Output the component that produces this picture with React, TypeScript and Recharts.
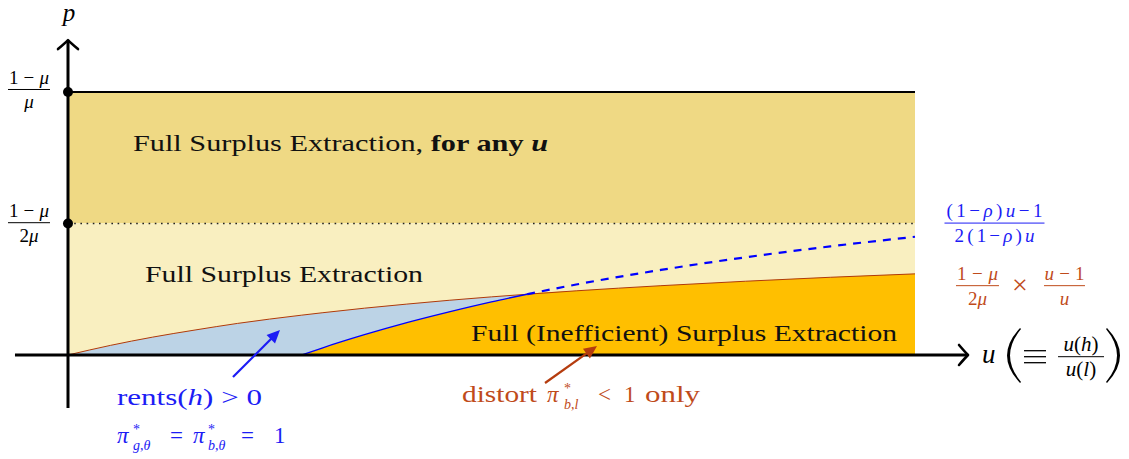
import React from 'react';
import { ComposedChart, Area, Line, XAxis, YAxis, ReferenceLine, ReferenceDot } from 'recharts';

// ---------- data ----------
// horizontal: u, 0 = origin, 10 = right edge of the shaded region
// vertical: p, 1 = (1-mu)/(2mu), 2 = (1-mu)/mu
const uValues = [0, 0.5, 1, 1.5, 2, 2.76, 3, 3.5, 4, 4.5, 5, 5.42, 6, 7, 8, 9, 10];
const surplusBoundary = [0, 0.073, 0.136, 0.19, 0.24, 0.303, 0.321, 0.356, 0.387, 0.416, 0.442, 0.462, 0.488, 0.527, 0.561, 0.591, 0.617];
const rentsBoundary: (number | null)[] = [null, null, null, null, null, 0, 0.053, 0.154, 0.246, 0.328, 0.404, 0.462, 0.536, 0.647, 0.743, 0.826, 0.899];
const crossingU = 5.42;
const pHalf = 1;
const pFull = 2;
const uEnd = 10;

// ---------- layout ----------
const W = 1129;
const H = 459;
const X_DOMAIN: [number, number] = [-0.8028, 12.5266];
const Y_DOMAIN: [number, number] = [-0.7909, 2.6996];
const X_AXIS_FROM = -0.626;
const X_AXIS_TIP = 10.626;
const Y_AXIS_FROM = -0.403;
const Y_AXIS_TIP = 2.395;

const FONT = "'Liberation Serif', 'Times New Roman', serif";
const BLUE = '#1c1cf5';
const RED = '#bf4b1b';

const rows = uValues.map((u, i) => {
  const r = surplusBoundary[i];
  const b = rentsBoundary[i];
  return {
    u,
    upper: [pHalf, pFull],
    lower: [0, pHalf],
    rents: u <= crossingU ? [0, r] : null,
    ineff: b === null ? null : [0, Math.min(r, b)],
    red: r,
    blueSolid: b !== null && u <= crossingU ? b : null,
    blueDash: b !== null && u >= crossingU ? b : null,
    top: pFull,
    half: pHalf,
  };
});

type Span = { t: string; i?: boolean; b?: boolean; x?: number; y?: number; s?: number };
type Piece = {
  x: number;
  y: number;
  size: number;
  spans: Span[];
  anchor?: 'start' | 'middle' | 'end';
  width?: number;
  adjust?: 'spacing' | 'spacingAndGlyphs';
};

const renderPieces = (cx: number, cy: number, pieces: Piece[], fill: string) =>
  pieces.map((p, k) => (
    <text
      key={k}
      x={cx + p.x}
      y={cy + p.y}
      fontSize={p.size}
      fontFamily={FONT}
      fill={fill}
      textAnchor={p.anchor || 'start'}
      {...(p.width ? { textLength: p.width, lengthAdjust: p.adjust || 'spacingAndGlyphs' } : {})}
    >
      {p.spans.map((s, j) => (
        <tspan
          key={j}
          fontStyle={s.i ? 'italic' : 'normal'}
          fontWeight={s.b ? 'bold' : 'normal'}
          {...(s.x !== undefined ? { x: cx + s.x } : {})}
          {...(s.y !== undefined ? { y: cy + s.y } : {})}
          {...(s.s !== undefined ? { fontSize: s.s } : {})}
        >
          {s.t}
        </tspan>
      ))}
    </text>
  ));

const axisArrow = (props: any) => {
  const { x1, y1, x2, y2 } = props;
  const len = Math.hypot(x2 - x1, y2 - y1) || 1;
  const dx = (x2 - x1) / len;
  const dy = (y2 - y1) / len;
  const nx = -dy;
  const ny = dx;
  const p = (a: number, b: number) => `${x2 + dx * a + nx * b},${y2 + dy * a + ny * b}`;
  return (
    <g>
      <line x1={x1} y1={y1} x2={x2 - dx * 1.2} y2={y2 - dy * 1.2} stroke="#000" strokeWidth={3} />
      <path
        d={`M${p(-9, 10)} Q${p(-3, 3)} ${p(0, 0)} Q${p(-3, -3)} ${p(-9, -10)}`}
        fill="none"
        stroke="#000"
        strokeWidth={2.6}
        strokeLinecap="round"
        strokeLinejoin="round"
      />
    </g>
  );
};

const pointer = (color: string) => (props: any) => {
  const { x1, y1, x2, y2 } = props;
  const len = Math.hypot(x2 - x1, y2 - y1) || 1;
  const dx = (x2 - x1) / len;
  const dy = (y2 - y1) / len;
  const nx = -dy;
  const ny = dx;
  const hl = 13;
  const hw = 6;
  const bx = x2 - dx * hl;
  const by = y2 - dy * hl;
  return (
    <g>
      <line x1={x1} y1={y1} x2={bx + dx * 2} y2={by + dy * 2} stroke={color} strokeWidth={2.2} />
      <path d={`M${x2},${y2} L${bx + nx * hw},${by + ny * hw} L${bx - nx * hw},${by - ny * hw} Z`} fill={color} />
    </g>
  );
};

const note = (key: string, u: number, p: number, render: (cx: number, cy: number) => React.ReactNode) => (
  <ReferenceDot
    key={key}
    x={u}
    y={p}
    r={0}
    ifOverflow="visible"
    isFront
    shape={(d: any) => <g>{render(d.cx, d.cy)}</g>}
  />
);

const mathFrac = (
  cx: number,
  cy: number,
  center: number,
  bar: number,
  barHalf: number,
  num: Span[],
  den: Span[],
  size: number,
  fill: string,
  numW?: number,
  denW?: number
) => (
  <g>
    <line x1={cx + center - barHalf} x2={cx + center + barHalf} y1={cy + bar} y2={cy + bar} stroke={fill} strokeWidth={1} />
    {renderPieces(cx, cy, [
      { x: center, y: bar - 5.7, size, spans: num, anchor: 'middle', width: numW, adjust: 'spacing' },
      { x: center, y: bar + 19, size, spans: den, anchor: 'middle', width: denW, adjust: 'spacing' },
    ], fill)}
  </g>
);

export default function App() {
  return (
    <div style={{ position: 'absolute', left: 0, top: 0, width: W, height: H, background: '#fff' }}>
      <ComposedChart width={W} height={H} data={rows} margin={{ top: 0, right: 0, bottom: 0, left: 0 }}>
        <XAxis dataKey="u" type="number" domain={X_DOMAIN} hide allowDataOverflow />
        <YAxis type="number" domain={Y_DOMAIN} hide allowDataOverflow />

        <Area dataKey="upper" type="linear" stroke="none" fill="#efd984" fillOpacity={1} dot={false} activeDot={false} isAnimationActive={false} />
        <Area dataKey="lower" type="linear" stroke="none" fill="#f9efc0" fillOpacity={1} dot={false} activeDot={false} isAnimationActive={false} />
        <Area dataKey="rents" type="monotone" stroke="none" fill="#bcd3e6" fillOpacity={1} dot={false} activeDot={false} isAnimationActive={false} />
        <Area dataKey="ineff" type="monotone" stroke="none" fill="#ffbf00" fillOpacity={1} dot={false} activeDot={false} isAnimationActive={false} />

        <Line dataKey="half" type="linear" stroke="#222" strokeWidth={1.6} strokeDasharray="1.6 4.6" dot={false} activeDot={false} isAnimationActive={false} />
        <Line dataKey="top" type="linear" stroke="#000" strokeWidth={2.2} dot={false} activeDot={false} isAnimationActive={false} />
        <Line dataKey="red" type="monotone" stroke="#b03a0a" strokeWidth={1} dot={false} activeDot={false} isAnimationActive={false} />
        <Line dataKey="blueSolid" type="monotone" stroke="#0000ff" strokeWidth={1.3} dot={false} activeDot={false} isAnimationActive={false} />
        <Line dataKey="blueDash" type="monotone" stroke="#0000ff" strokeWidth={2.2} strokeDasharray="8 7" dot={false} activeDot={false} isAnimationActive={false} />

        <ReferenceLine segment={[{ x: X_AXIS_FROM, y: 0 }, { x: X_AXIS_TIP, y: 0 }]} ifOverflow="visible" shape={axisArrow} />
        <ReferenceLine segment={[{ x: 0, y: Y_AXIS_FROM }, { x: 0, y: Y_AXIS_TIP }]} ifOverflow="visible" shape={axisArrow} />

        <ReferenceLine segment={[{ x: 1.948, y: -0.167 }, { x: 2.503, y: 0.19 }]} ifOverflow="visible" shape={pointer(BLUE)} />
        <ReferenceLine segment={[{ x: 5.632, y: -0.213 }, { x: 6.246, y: 0.068 }]} ifOverflow="visible" shape={pointer('#b53c0e')} />

        {note('dotTop', 0, pFull, (cx, cy) => <circle cx={cx} cy={cy} r={5} fill="#000" />)}
        {note('dotHalf', 0, pHalf, (cx, cy) => <circle cx={cx} cy={cy} r={5} fill="#000" />)}

        {note('p', 0, Y_AXIS_TIP, (cx, cy) =>
          renderPieces(cx, cy, [{ x: 1, y: -19, size: 25, spans: [{ t: 'p', i: true }], anchor: 'middle' }], '#000')
        )}

        {note('fracTop', 0, pFull, (cx, cy) =>
          mathFrac(cx, cy, -39, -2.5, 21, [{ t: '1−' }, { t: 'μ', i: true }], [{ t: 'μ', i: true }], 19, '#000', 40)
        )}
        {note('fracHalf', 0, pHalf, (cx, cy) =>
          mathFrac(cx, cy, -39, -0.8, 21, [{ t: '1−' }, { t: 'μ', i: true }], [{ t: '2' }, { t: 'μ', i: true }], 19, '#000', 40)
        )}

        {note('t1', 0, pFull, (cx, cy) =>
          renderPieces(cx, cy, [
            {
              x: 65,
              y: 59,
              size: 23,
              width: 415,
              spans: [{ t: 'Full Surplus Extraction, ' }, { t: 'for any ', b: true }, { t: 'u', b: true, i: true }],
            },
          ], '#111')
        )}
        {note('t2', 0, pHalf, (cx, cy) =>
          renderPieces(cx, cy, [{ x: 77, y: 58.5, size: 23, width: 278, spans: [{ t: 'Full Surplus Extraction' }] }], '#111')
        )}
        {note('t3', uEnd, 0, (cx, cy) =>
          renderPieces(cx, cy, [
            { x: -18, y: -14, size: 23, width: 426, anchor: 'end', spans: [{ t: 'Full (Inefficient) Surplus Extraction' }] },
          ], '#111')
        )}

        {note('rents', 1.948, -0.167, (cx, cy) =>
          renderPieces(cx, cy, [
            { x: -116, y: 28, size: 23, width: 145, spans: [{ t: 'rents(' }, { t: 'h', i: true }, { t: ') > 0' }] },
            {
              x: -116,
              y: 66,
              size: 23,
              spans: [
                { t: 'π', i: true, x: -116, y: 66 },
                { t: '*', s: 14, x: -100, y: 57 },
                { t: 'g', i: true, s: 14, x: -100, y: 73 },
                { t: ',', s: 14 },
                { t: 'θ', i: true, s: 14 },
                { t: '=', x: -63, y: 66 },
                { t: 'π', i: true, x: -40, y: 66 },
                { t: '*', s: 14, x: -25, y: 57 },
                { t: 'b', i: true, s: 14, x: -25, y: 73 },
                { t: ',', s: 14 },
                { t: 'θ', i: true, s: 14 },
                { t: '=', x: 8, y: 66 },
                { t: '1', x: 41, y: 66 },
              ],
            },
          ], BLUE)
        )}

        {note('distort', 5.632, -0.213, (cx, cy) =>
          renderPieces(cx, cy, [
            { x: -83, y: 19, size: 23, width: 75, spans: [{ t: 'distort' }] },
            {
              x: 2,
              y: 19,
              size: 23,
              spans: [
                { t: 'π', i: true, x: 2, y: 19 },
                { t: '*', s: 14, x: 19, y: 10 },
                { t: 'b', i: true, s: 14, x: 19, y: 26 },
                { t: ',', s: 14 },
                { t: 'l', i: true, s: 14 },
                { t: '<', x: 53, y: 19 },
                { t: '1', x: 79, y: 19 },
              ],
            },
            { x: 100, y: 19, size: 23, width: 55, spans: [{ t: 'only' }] },
          ], RED)
        )}

        {note('blueFrac', uEnd, rentsBoundary[rentsBoundary.length - 1] as number, (cx, cy) =>
          mathFrac(
            cx,
            cy,
            79.5,
            -13.7,
            50,
            [{ t: '(1−' }, { t: 'ρ', i: true }, { t: ')' }, { t: 'u', i: true }, { t: '−1' }],
            [{ t: '2(1−' }, { t: 'ρ', i: true }, { t: ')' }, { t: 'u', i: true }],
            19,
            BLUE,
            96,
            80
          )
        )}

        {note('redFrac', uEnd, surplusBoundary[surplusBoundary.length - 1], (cx, cy) => (
          <g>
            {mathFrac(cx, cy, 62.5, 11.8, 21.5, [{ t: '1−' }, { t: 'μ', i: true }], [{ t: '2' }, { t: 'μ', i: true }], 19, RED, 41)}
            {renderPieces(cx, cy, [{ x: 105, y: 20, size: 28, anchor: 'middle', spans: [{ t: '×' }] }], RED)}
            {mathFrac(cx, cy, 149.5, 11.8, 20.5, [{ t: 'u', i: true }, { t: '−1' }], [{ t: 'u', i: true }], 19, RED, 40)}
          </g>
        ))}

        {note('xLabel', X_AXIS_TIP, 0, (cx, cy) => (
          <g>
            {renderPieces(cx, cy, [{ x: 14, y: 8, size: 27, spans: [{ t: 'u', i: true }] }], '#000')}
            <path
              d={`M${cx + 52},${cy - 27} Q${cx + 26},${cy + 0.5} ${cx + 52},${cy + 28} L${cx + 53},${cy + 27} Q${cx + 31},${cy + 0.5} ${cx + 53},${cy - 26} Z`}
              fill="#000"
            />
            {[-4.3, 1.7, 7.7].map((o) => (
              <line key={o} x1={cx + 56} x2={cx + 78} y1={cy + o} y2={cy + o} stroke="#000" strokeWidth={1.3} />
            ))}
            {mathFrac(
              cx,
              cy,
              113,
              1.7,
              23,
              [{ t: 'u', i: true }, { t: '(' }, { t: 'h', i: true }, { t: ')' }],
              [{ t: 'u', i: true }, { t: '(' }, { t: 'l', i: true }, { t: ')' }],
              21,
              '#000'
            )}
            <path
              d={`M${cx + 139},${cy - 27} Q${cx + 165},${cy + 0.5} ${cx + 139},${cy + 28} L${cx + 138},${cy + 27} Q${cx + 160},${cy + 0.5} ${cx + 138},${cy - 26} Z`}
              fill="#000"
            />
          </g>
        ))}
      </ComposedChart>
    </div>
  );
}
